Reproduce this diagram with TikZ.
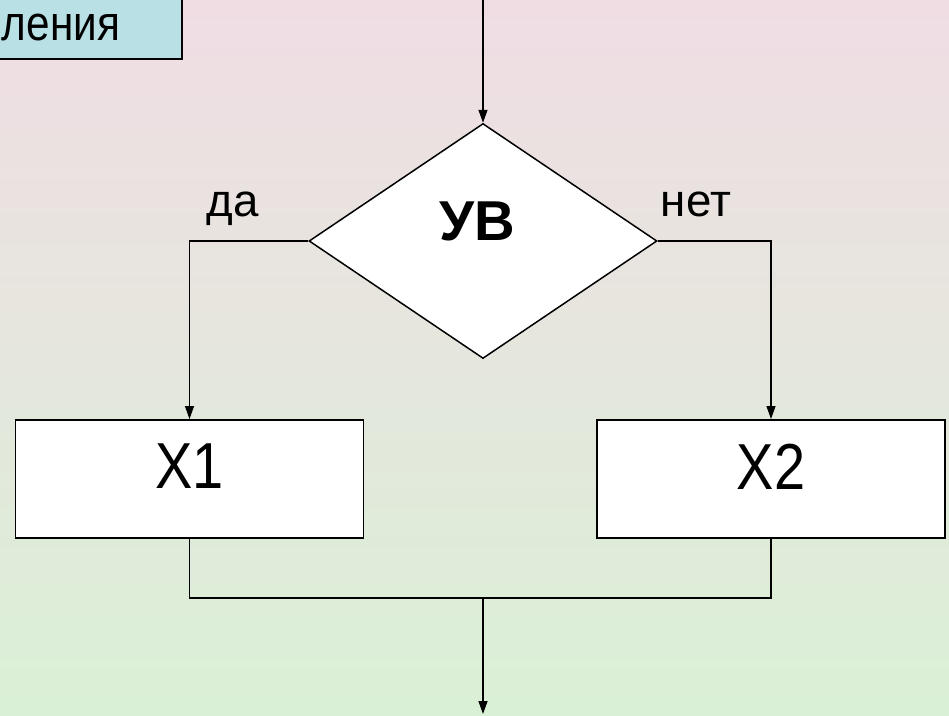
\documentclass[tikz,border=0pt]{standalone}
\usepackage{fontspec}
\setmainfont{Liberation Sans}
\newfontfamily\narrowsans[FakeStretch=0.86]{Liberation Sans}
\usetikzlibrary{shapes.geometric,arrows.meta}

\definecolor{bgtop}{RGB}{240,221,228}
\definecolor{bgbottom}{RGB}{218,240,214}
\definecolor{titlefill}{RGB}{185,224,228}

\begin{document}
\begin{tikzpicture}[
  flow/.style={draw, line width=0.75pt, -{Triangle[length=2.6mm,width=1.8mm]}},
  wire/.style={draw, line width=0.75pt},
  actbox/.style={draw, fill=white, line width=1.1pt, minimum width=6.96cm,
    minimum height=2.36cm, inner sep=0pt, text depth=0.5cm,
    font=\narrowsans\fontsize{37}{40}\selectfont},
  condbox/.style={diamond, draw, fill=white, line width=0.85pt, inner sep=0pt,
    minimum width=6.96cm, minimum height=4.7cm},
  txt/.style={inner sep=0pt, font=\fontsize{26}{30}\selectfont}
]

% background
\useasboundingbox (0,0) rectangle (18.98,-14.32);
\shade[top color=bgtop, bottom color=bgbottom] (0,0) rectangle (18.98,-14.32);

% title, cut at the left
\draw[fill=titlefill, line width=0.75pt] (-2,1) rectangle (3.64,-1.18);
\node[txt, anchor=base west, font=\narrowsans\fontsize{28}{32}\selectfont] (title) at (0.03,-0.81) {ления};

% condition
\coordinate (top) at (9.66,0);
\node[condbox] (cond) at (9.66,-4.82) {};
\node[txt, font=\bfseries\fontsize{32}{36}\selectfont] (condtxt) at (9.54,-4.42) {УВ};
\draw[flow] (top) -- (cond.north);

% branches
\node[actbox] (x1) at (3.79,-9.58) {X1};
\node[actbox] (x2) at (15.42,-9.58) {X2};
\draw[flow] (cond.west) -| (x1.north);
\draw[flow] (cond.east) -| (x2.north);
\node[txt, anchor=base] (yes) at (4.66,-4.34) {да};
\node[txt, anchor=base] (no) at (13.92,-4.34) {нет};

% join
\coordinate (join) at (9.66,-11.96);
\coordinate (out) at (9.66,-14.28);
\draw[wire] (x1.south) |- (join) -| (x2.south);
\draw[flow] (join) -- (out);

\end{tikzpicture}
\end{document}
